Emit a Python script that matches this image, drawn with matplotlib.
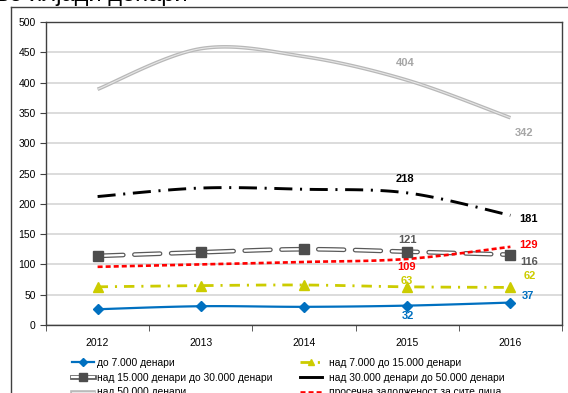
import numpy as np
import matplotlib.pyplot as plt
from matplotlib.lines import Line2D
from matplotlib.legend_handler import HandlerTuple

plt.rcParams['font.family'] = ['Liberation Sans', 'DejaVu Sans']
plt.rcParams['lines.scale_dashes'] = False

years = ['2012', '2013', '2014', '2015', '2016']
do_7000 = [26, 31, 30, 32, 37]
od_7_do_15 = [63, 65, 66, 63, 62]
od_15_do_30 = [114, 120, 125, 121, 116]
od_30_do_50 = [212, 226, 224, 218, 181]
nad_50 = [389, 456, 443, 404, 342]
prosek = [96, 100, 104, 109, 129]

labels = ['до 7.000 денари', 'над 7.000 до 15.000 денари',
          'над 15.000 денари до 30.000 денари', 'над 30.000 денари до 50.000 денари',
          'над 50.000 денари', 'просечна задолженост за сите лица']


def smooth(y, n=30):
    # excel-like smoothed line (bezier through the points)
    x = np.arange(len(y), dtype=float)
    y = np.asarray(y, dtype=float)
    px = np.concatenate([[x[0]], x, [x[-1]]])
    py = np.concatenate([[y[0]], y, [y[-1]]])
    xs, ys = [], []
    t = np.linspace(0, 1, n)
    for i in range(len(y) - 1):
        p0 = np.array([x[i], y[i]])
        p3 = np.array([x[i + 1], y[i + 1]])
        p1 = p0 + (np.array([px[i + 2], py[i + 2]]) - np.array([px[i], py[i]])) / 6
        p2 = p3 - (np.array([px[i + 3], py[i + 3]]) - np.array([px[i + 1], py[i + 1]])) / 6
        b = ((1 - t) ** 3)[:, None] * p0 + (3 * (1 - t) ** 2 * t)[:, None] * p1 \
            + (3 * (1 - t) * t ** 2)[:, None] * p2 + (t ** 3)[:, None] * p3
        xs.append(b[:, 0])
        ys.append(b[:, 1])
    return np.concatenate(xs), np.concatenate(ys)


fig = plt.figure(figsize=(5.68, 3.93), dpi=100)
W, H = 568, 393
ax = fig.add_axes([46 / W, 1 - 325 / H, (562 - 46) / W, (325 - 22) / H])

x = np.arange(len(years))
blue = '#0070C0'
yellow = '#CCCC00'
sqgray = '#4D4D4D'
gray50 = '#B8B8B8'
red = '#FF0000'

# над 50.000 (double light gray line)
sx, sy = smooth(nad_50)
ax.plot(sx, sy, color=gray50, lw=2.6, solid_capstyle='butt', zorder=3)
ax.plot(sx, sy, color='#E6E6E6', lw=0.8, zorder=3)

# над 30.000 до 50.000
sx, sy = smooth(od_30_do_50)
ax.plot(sx, sy, color='black', lw=2.1, dashes=(13, 5.5, 1.5, 5.5), zorder=3)

# над 15.000 до 30.000 (double dashed line + squares)
sx, sy = smooth(od_15_do_30)
ax.plot(sx, sy, color='#595959', lw=3.4, dashes=(18.5, 8), dash_capstyle='round', zorder=3)
ax.plot(sx, sy, color='white', lw=1.6, dashes=(18.5, 8), dash_capstyle='round', zorder=3)
ax.plot(x, od_15_do_30, ls='none', marker='s', ms=7, color=sqgray, zorder=4)

# просечна
sx, sy = smooth(prosek)
ax.plot(sx, sy, color=red, lw=1.9, dashes=(3.6, 2.2), zorder=3)

# над 7.000 до 15.000
sx, sy = smooth(od_7_do_15)
ax.plot(sx, sy, color=yellow, lw=2.0, dashes=(7.5, 5, 1.5, 5), zorder=3)
ax.plot(x, od_7_do_15, ls='none', marker='^', ms=7, color=yellow, zorder=4)

# до 7.000
sx, sy = smooth(do_7000)
ax.plot(sx, sy, color=blue, lw=1.6, zorder=3)
ax.plot(x, do_7000, ls='none', marker='D', ms=5, color=blue, zorder=4)

# data labels for 2015 and 2016
lab = [
    (nad_50, '#A6A6A6', (-2, 17), (14, -15)),
    (od_30_do_50, 'black', (-2, 14), (18, -4)),
    (od_15_do_30, '#595959', (0, 12), (19, -7)),
    (prosek, red, (-1, -8), (18, 2)),
    (od_7_do_15, yellow, (0, 6), (19, 11)),
    (do_7000, blue, (1, -10), (18, 7)),
]
for vals, c, o15, o16 in lab:
    for i, o in ((3, o15), (4, o16)):
        ax.annotate(str(vals[i]), (x[i], vals[i]), xytext=o, textcoords='offset pixels',
                    ha='center', va='center', fontsize=8, fontweight='bold', color=c,
                    zorder=5)

ax.set_xlim(-0.5, 4.5)
ax.set_ylim(0, 500)
ax.set_yticks(np.arange(0, 501, 50))
ax.set_xticks(x)
ax.set_xticklabels(years)
ax.set_xticks(np.arange(-0.5, 5, 1), minor=True)
ax.tick_params(axis='x', which='major', length=0, pad=9, labelsize=7.5)
ax.tick_params(axis='x', which='minor', length=4, direction='out', color='#404040')
ax.tick_params(axis='y', length=4, pad=3.5, labelsize=7.5, color='#404040')
ax.yaxis.grid(True, color='#D9D9D9', lw=1.3)
ax.set_axisbelow(True)
for s in ax.spines.values():
    s.set_color('#404040')
    s.set_linewidth(1)

# outer chart frame
fig.add_artist(Line2D([11 / W, 11 / W], [0, 1 - 7 / H], color='#404040', lw=1))
fig.add_artist(Line2D([11 / W, 1], [1 - 7 / H, 1 - 7 / H], color='#404040', lw=1))

# cut-off title
fig.text(-3 / W, 1 - 1.5 / H, 'во илјади денари', fontsize=17, va='baseline', ha='left')

# legend handles
h_blue = Line2D([], [], color=blue, lw=1.6, marker='D', ms=4)
h_yel = Line2D([], [], color=yellow, lw=2.0, dashes=(7.5, 5, 1.5, 5), marker='^', ms=5)
h_sq = (Line2D([], [], color='#595959', lw=3.4),
        Line2D([], [], color='white', lw=1.6),
        Line2D([], [], ls='none', marker='s', ms=6, color=sqgray))
h_blk = Line2D([], [], color='black', lw=2.1)
h_50 = (Line2D([], [], color=gray50, lw=2.6), Line2D([], [], color='#E6E6E6', lw=0.8))
h_red = Line2D([], [], color=red, lw=1.9, dashes=(3.6, 2.2))

common = dict(frameon=False, fontsize=7.4, handlelength=2.1, labelspacing=0.45,
              borderpad=0, borderaxespad=0, handler_map={tuple: HandlerTuple(ndivide=1)})
fig.legend([h_blue, h_sq, h_50], [labels[0], labels[2], labels[4]],
           loc='upper left', bbox_to_anchor=(72 / W, 1 - 358 / H), handletextpad=0.3, **common)
fig.legend([h_yel, h_blk, h_red], [labels[1], labels[3], labels[5]],
           loc='upper left', bbox_to_anchor=(300 / W, 1 - 358 / H), handletextpad=0.75, **common)

fig.savefig('out.png', dpi=100)
